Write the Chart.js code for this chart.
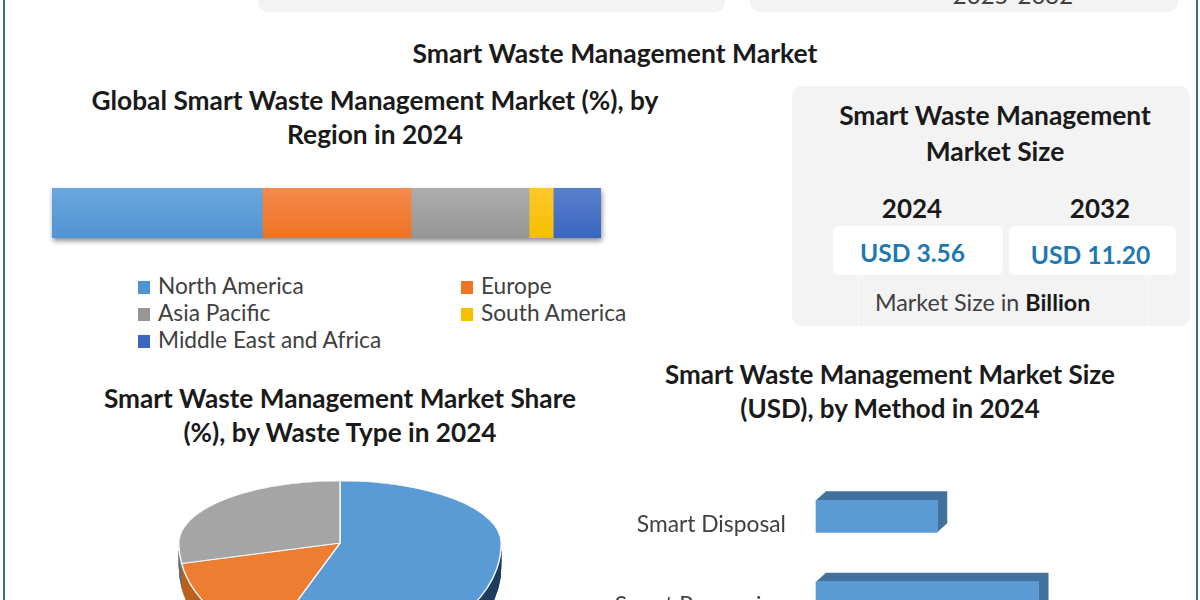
<!DOCTYPE html>
<html>
<head>
<meta charset="utf-8">
<script src="https://cdn.jsdelivr.net/npm/chart.js@4"></script>
<style>
html,body{margin:0;padding:0;background:#fff}
#page{position:relative;width:1200px;height:600px;overflow:hidden;background:#fff;font-family:Lato,sans-serif;color:#1a1a1a}
#page>*{position:absolute}
.edge{top:0;width:2px;height:600px;background:#3d6a8c}
.panel{background:#f3f3f3;border-radius:10px}
.card{background:#fff;border-radius:6px}
.ttl{font-weight:700;font-size:26px;line-height:33.5px;text-align:center;color:#1a1a1a;white-space:nowrap}
.usd{font-weight:700;font-size:24.6px;line-height:32px;text-align:center;color:#1f78b4;white-space:nowrap}
.note{top:277px;left:858px;width:288px;height:49px;border-left:1px solid #fbfbfb;border-right:1px solid #fbfbfb;font-size:23.3px;line-height:50px;color:#404040;text-indent:16px;white-space:nowrap}
.note b{color:#1a1a1a}
#legend{left:138px;top:272px;display:grid;grid-template-columns:323px 200px;grid-auto-rows:27.2px;font-size:22.7px;line-height:27px;color:#404040;white-space:nowrap}
#legend i{display:inline-block;width:12px;height:13px;margin-right:8px}
canvas{position:absolute}
</style>
</head>
<body>
<div id="page">
  <div class="edge" style="left:3px"></div>
  <div class="edge" style="left:1196px"></div>
  <div class="panel" style="left:258px;top:-30px;width:467px;height:42px"></div>
  <div class="panel" style="left:750px;top:-30px;width:428px;height:42px"></div>
  <div class="ttl" style="left:799px;top:-22px;width:428px;font-size:24px;font-weight:400;color:#404040">2025-2032</div>

  <div class="ttl" style="left:315px;top:37px;width:600px;font-size:26.5px">Smart Waste Management Market</div>
  <div class="ttl" style="left:25px;top:84px;width:700px;font-size:26.3px">Global Smart Waste Management Market (%), by<br>Region in 2024</div>

  <div class="panel" style="left:792px;top:86px;width:398px;height:240px"></div>
  <div class="ttl" style="left:792px;top:97px;width:406px;line-height:36px;font-size:26.4px">Smart Waste Management<br>Market Size</div>
  <div class="ttl" style="left:812px;top:192px;width:200px">2024</div>
  <div class="ttl" style="left:1000px;top:192px;width:200px">2032</div>
  <div class="card" style="left:833px;top:226px;width:170px;height:49px"></div>
  <div class="card" style="left:1009px;top:226px;width:167px;height:49px"></div>
  <div class="usd" style="left:833px;top:237px;width:159px">USD 3.56</div>
  <div class="usd" style="left:1009px;top:239px;width:163px">USD 11.20</div>
  <div class="note">Market Size in <b>Billion</b></div>

  <canvas id="ch-region" style="left:42px;top:178px" width="570" height="70"></canvas>
  <div id="legend"></div>

  <div class="ttl" style="left:40px;top:382px;width:700px;margin-left:-50px;font-size:26.2px">Smart Waste Management Market Share<br>(%), by Waste Type in 2024</div>
  <canvas id="ch-waste" style="left:170px;top:373px" width="340" height="340"></canvas>

  <div class="ttl" style="left:540px;top:358px;width:700px">Smart Waste Management Market Size<br>(USD), by Method in 2024</div>
  <canvas id="ch-method" style="left:610px;top:462px" width="581" height="190"></canvas>
</div>

<script>
// ===================== DATA =====================
const regiones=['North America','Europe','Asia Pacific','South America','Middle East and Africa'];
const regionValores=[38.3,27.1,21.5,4.4,8.7];
const regionTop=['#6ba6de','#f58a4b','#adadad','#ffc72c','#5a80cc'];
const regionBottom=['#4f94d2','#ee7322','#969696','#f5bf00','#3a66bf'];

const tipos=['Organic','Recyclable','Other'];
const tipoValores=[57.4,14.6,28];
const tipoColores=['#5b9bd5','#ed7d31','#a5a5a5'];
const tipoLados=['#1f3d5e','#b8621f','#6e6e6e'];

const metodos=['Smart Disposal','Smart Processing'];
const metodoValores=[0.97,1.78];

Chart.defaults.animation=false;
Chart.defaults.responsive=false;
Chart.defaults.font.family='Lato, sans-serif';

// ===================== BARRA POR REGION =====================
document.getElementById('legend').innerHTML=regiones.map((r,i)=>
  '<div><i style="background:'+regionBottom[i]+'"></i>'+r+'</div>').join('');

const sombraBarra={id:'sombraBarra',beforeDatasetsDraw(chart){
  const ctx=chart.ctx,a=chart.chartArea;
  const ini=chart.getDatasetMeta(0).data[0];
  const fin=chart.getDatasetMeta(regiones.length-1).data[0];
  ctx.save();
  ctx.shadowColor='rgba(0,0,0,.45)';ctx.shadowBlur=5;ctx.shadowOffsetX=1;ctx.shadowOffsetY=3;
  ctx.fillStyle='#888';
  ctx.fillRect(ini.base,a.top,fin.x-ini.base,a.bottom-a.top);
  ctx.restore();
}};

new Chart(document.getElementById('ch-region'),{type:'bar',
  data:{labels:['2024'],datasets:regiones.map((r,i)=>({label:r,data:[regionValores[i]],
    backgroundColor:c=>{
      const a=c.chart.chartArea;
      if(!a) return regionBottom[i];
      const g=c.chart.ctx.createLinearGradient(0,a.top,0,a.bottom);
      g.addColorStop(0,regionTop[i]);g.addColorStop(1,regionBottom[i]);
      return g;
    },
    barPercentage:1,categoryPercentage:1,borderWidth:0}))},
  options:{indexAxis:'y',layout:{padding:{left:10,right:11,top:10,bottom:10}},
    plugins:{legend:{display:false},tooltip:{enabled:false}},
    scales:{x:{stacked:true,display:false,min:0,max:100},y:{stacked:true,display:false}}},
  plugins:[sombraBarra]
});

// ===================== PASTEL 3D =====================
const kArriba=0.385,kAbajo=0.68,fondo=25;
const pastel3d={id:'pastel3d',beforeDatasetsDraw(chart){
  const ctx=chart.ctx,meta=chart.getDatasetMeta(0),cy=meta.data[0].y;
  const w=chart.width,h=chart.height;
  // lado del cilindro, solo se ve de la mitad para abajo
  ctx.save();
  ctx.beginPath();ctx.rect(0,cy+8,w,h-cy);ctx.clip();
  for(let d=fondo;d>0;d--){
    ctx.save();
    ctx.translate(0,cy+d);ctx.scale(1,kAbajo);ctx.translate(0,-cy);
    meta.data.forEach((el,i)=>{
      ctx.fillStyle=tipoLados[i];
      ctx.beginPath();ctx.moveTo(el.x,el.y);
      ctx.arc(el.x,el.y,el.outerRadius,el.startAngle,el.endAngle);
      ctx.closePath();ctx.fill();
    });
    ctx.restore();
  }
  ctx.restore();
  // tapa: mitad de atras mas aplastada que la de adelante
  [[0,cy,kArriba],[cy,h-cy,kAbajo]].forEach(([y,alto,k])=>{
    ctx.save();
    ctx.beginPath();ctx.rect(0,y,w,alto);ctx.clip();
    ctx.translate(0,cy);ctx.scale(1,k);ctx.translate(0,-cy);
    meta.controller.draw();
    ctx.restore();
  });
  return false;
}};

new Chart(document.getElementById('ch-waste'),{type:'pie',
  data:{labels:tipos,datasets:[{data:tipoValores,backgroundColor:tipoColores,
    borderColor:'#f4f8fc',borderWidth:1.5}]},
  options:{layout:{padding:8},plugins:{legend:{display:false},tooltip:{enabled:false}}},
  plugins:[pastel3d]
});

// ===================== BARRAS POR METODO =====================
const barra3d={id:'barra3d',beforeDatasetsDraw(chart){
  const ctx=chart.ctx,dx=10,dy=9;
  chart.getDatasetMeta(0).data.forEach(b=>{
    const izq=b.base,der=b.x,arr=b.y-b.height/2,aba=b.y+b.height/2;
    ctx.fillStyle='#41719c';
    ctx.beginPath();
    ctx.moveTo(izq,arr);ctx.lineTo(izq+dx,arr-dy);ctx.lineTo(der+dx,arr-dy);
    ctx.lineTo(der+dx,aba-dy);ctx.lineTo(der,aba);ctx.lineTo(der,arr);
    ctx.closePath();ctx.fill();
  });
}};

new Chart(document.getElementById('ch-method'),{type:'bar',
  data:{labels:metodos,datasets:[{data:metodoValores,backgroundColor:'#5b9bd5',barThickness:32,clip:false}]},
  options:{indexAxis:'y',layout:{padding:0},
    plugins:{legend:{display:false},tooltip:{enabled:false}},
    scales:{
      x:{display:false,min:0,max:3},
      y:{afterFit(s){s.width=206;},grid:{display:false,drawTicks:true,tickLength:30},border:{display:false},
        ticks:{color:'#404040',font:{size:22.8},padding:0,labelOffset:8}}}},
  plugins:[barra3d]
});
</script>
</body>
</html>
